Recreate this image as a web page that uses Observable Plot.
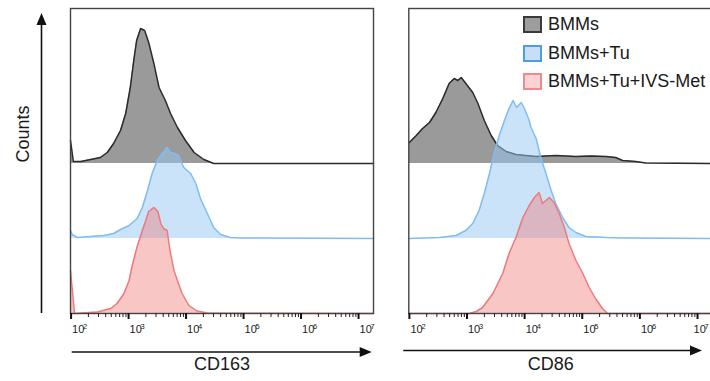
<!DOCTYPE html>
<html><head><meta charset="utf-8">
<script src="https://cdn.jsdelivr.net/npm/d3@7"></script>
<script src="https://cdn.jsdelivr.net/npm/@observablehq/plot@0.6"></script>
<style>
html,body{margin:0;padding:0;background:#fff;}
#wrap{position:relative;width:710px;height:381px;overflow:hidden;font-family:"Liberation Sans",Arial,sans-serif;}
.panel{position:absolute;top:0;}
#legend{position:absolute;left:523px;top:16px;}
.item{display:flex;align-items:center;height:17px;margin-bottom:11.7px;white-space:nowrap;font-size:18px;color:#1a1a1a;}
.sw{width:19px;height:17px;box-sizing:border-box;border:2px solid;margin-right:6px;flex:none;}
</style></head><body>
<div id="wrap"></div>
<script>
// ---- data: [log10 fluorescence intensity, counts (arbitrary units)] ----
const groups = ["BMMs", "BMMs+Tu", "BMMs+Tu+IVS-Met"];
const panelLabels = ["CD163", "CD86"];
const tickExponents = [2, 3, 4, 5, 6, 7];

const CD163_BMMs = [[1.99,23],[2.04,2],[2.17,2],[2.34,4],[2.51,6],[2.63,11],[2.74,20],[2.86,33],[2.95,50],[3.03,76],[3.09,103],[3.14,123],[3.21,135],[3.28,133],[3.35,121],[3.44,100],[3.53,76],[3.64,63],[3.73,50],[3.85,36],[3.99,23],[4.14,11],[4.31,4],[4.48,0],[7.26,0]];
const CD163_Tu = [[1.99,8],[2.02,4],[2.11,1],[2.34,2],[2.57,3],[2.74,5],[2.86,9],[3.01,13],[3.15,20],[3.24,31],[3.33,48],[3.41,65],[3.50,78],[3.59,85],[3.67,91],[3.73,86],[3.80,85],[3.87,83],[3.96,71],[4.08,65],[4.17,55],[4.25,40],[4.37,25],[4.48,11],[4.60,4],[4.77,1],[4.95,0.5],[7.26,0]];
const CD163_TuMet = [[1.99,43],[2.06,0],[2.46,1.5],[2.69,5],[2.80,10],[2.92,20],[3.01,33],[3.06,47],[3.15,67],[3.24,83],[3.30,93],[3.35,102],[3.44,106],[3.51,102],[3.56,90],[3.61,85],[3.67,83],[3.72,63],[3.79,43],[3.85,33],[3.93,20],[4.05,8],[4.19,2.5],[4.37,0.5],[7.26,0]];

const CD86_BMMs = [[2.00,21],[2.12,28],[2.23,35],[2.35,41],[2.46,51],[2.58,65],[2.69,80],[2.78,85],[2.84,83],[2.90,86],[2.98,80],[3.10,71],[3.19,60],[3.30,43],[3.42,28],[3.53,18],[3.68,12],[3.85,9],[4.02,8],[4.20,7],[4.54,8],[4.89,7],[5.15,7.5],[5.41,7],[5.58,6],[5.70,3],[5.93,2],[6.10,0.5],[7.26,0]];
const CD86_Tu = [[2.00,0],[2.52,1],[2.81,3],[2.98,8],[3.10,15],[3.21,28],[3.30,45],[3.39,65],[3.47,85],[3.56,103],[3.65,118],[3.73,130],[3.80,138],[3.86,131],[3.94,136],[3.99,131],[4.08,118],[4.11,111],[4.20,100],[4.28,81],[4.37,65],[4.46,48],[4.54,35],[4.66,21],[4.77,11],[4.89,6],[5.06,2],[5.41,1],[5.76,0.5],[7.26,0]];
const CD86_TuMet = [[2.00,0],[3.04,0],[3.16,2],[3.27,6],[3.45,20],[3.62,40],[3.73,60],[3.85,76],[3.97,96],[4.08,108],[4.17,116],[4.25,121],[4.31,110],[4.37,113],[4.43,116],[4.51,111],[4.60,100],[4.69,86],[4.77,70],[4.89,53],[5.01,40],[5.12,26],[5.23,15],[5.35,5],[5.44,0],[7.26,0]];

// ---- styling ----
const FONT = '"Liberation Sans", Arial, sans-serif';
const styles = [
  {fill: "#9a9a9a", fillOpacity: 1, stroke: "#2a2a2a"},
  {fill: "#95c8f3", fillOpacity: 0.5, stroke: "#80bdf0"},
  {fill: "#f07878", fillOpacity: 0.42, stroke: "#ec7b7b"}
];
const legendStyles = [
  {bg: "#9d9d9d", border: "#3a3a3a"},
  {bg: "#c6def6", border: "#4a9de6"},
  {bg: "#fcd3d3", border: "#f08a8a"}
];
const laneStep = 75;
const xDomain = [10 ** 1.99, 10 ** 7.26];
const majorTicks = tickExponents.map(e => 10 ** e);
const minorTicks = [];
for (let e = 1; e <= 7; e++) for (let k = 2; k <= 9; k++) {
  const v = k * 10 ** e; if (v > xDomain[0] && v < xDomain[1]) minorTicks.push(v);
}

function tickLabels(ticks, shift) {
  return [
    Plot.text(ticks, {x: d => d, text: () => "10", frameAnchor: "bottom", dy: 19.5, dx: 1 + shift, textAnchor: "start", fontSize: 11, fill: "#222"}),
    Plot.text(ticks, {x: d => d, text: d => String(Math.round(Math.log10(d))), frameAnchor: "bottom", dy: 15, dx: 12 + shift, textAnchor: "start", fontSize: 7.5, fill: "#222"})
  ];
}

function makePanel(seriesList, label, o) {
  const marks = [];
  seriesList.forEach((pts, i) => {
    const off = laneStep * (seriesList.length - 1 - i);
    const rows = pts.map(([e, c]) => ({x: 10 ** e, y1: off, y2: off + c}));
    marks.push(Plot.areaY(rows, {x: "x", y1: "y1", y2: "y2", fill: styles[i].fill, fillOpacity: styles[i].fillOpacity}));
    marks.push(Plot.lineY(rows, {x: "x", y: "y2", stroke: styles[i].stroke, strokeWidth: 1.5}));
  });
  marks.push(Plot.frame({stroke: "#444", strokeWidth: 1.4}));
  marks.push(Plot.axisX({ticks: minorTicks, tickSize: 4, tickFormat: () => "", stroke: "#222", strokeWidth: 1, label: null}));
  marks.push(Plot.axisX({ticks: majorTicks, tickSize: 6, tickFormat: () => "", stroke: "#111", strokeWidth: 2, label: null}));
  marks.push(...tickLabels(majorTicks.slice(0, -1), 0));
  marks.push(...tickLabels(majorTicks.slice(-1), o.lastShift));
  marks.push(Plot.text([label], {frameAnchor: "bottom", dy: 56, dx: o.labelDx, fontSize: 18, fill: "#1a1a1a"}));
  if (o.counts) marks.push(Plot.text(["Counts"], {frameAnchor: "left", rotate: -90, dx: -47, dy: 1.5, fontSize: 18, fill: "#1a1a1a"}));
  const chart = Plot.plot({
    width: o.width, height: 381,
    marginLeft: o.ml, marginRight: o.mr, marginTop: 8, marginBottom: 68,
    style: {fontFamily: FONT, background: "transparent", overflow: "visible"},
    x: {type: "log", domain: xDomain, axis: null},
    y: {domain: [0, 305], axis: null},
    marks
  });
  // decorative arrows drawn from the chart's own scale ranges
  const svg = d3.select(chart.tagName.toLowerCase() === "svg" ? chart : chart.querySelector("svg"));
  const [r0, r1] = chart.scale("x").range;
  const yb = 381 - 68;
  const g = svg.append("g").attr("fill", "#111").attr("stroke", "#111");
  const ax1 = r0 + o.arrow[0], ax2 = r1 + o.arrow[1], ay = yb + o.arrowDy;
  g.append("line").attr("x1", ax1).attr("x2", ax2 - 9).attr("y1", ay).attr("y2", ay).attr("stroke-width", 1.6);
  g.append("path").attr("stroke", "none").attr("d", `M${ax2},${ay}L${ax2 - 12},${ay - 5}L${ax2 - 12},${ay + 5}Z`);
  if (o.counts) {
    const vx = 41.5, top = 13;
    g.append("line").attr("x1", vx).attr("x2", vx).attr("y1", yb).attr("y2", top + 9).attr("stroke-width", 1.6);
    g.append("path").attr("stroke", "none").attr("d", `M${vx},${top}L${vx - 5},${top + 12}L${vx + 5},${top + 12}Z`);
  }
  return chart;
}

const wrap = document.getElementById("wrap");
const left = makePanel([CD163_BMMs, CD163_Tu, CD163_TuMet], panelLabels[0], {width: 390, ml: 70, mr: 17, counts: true, labelDx: 0, arrow: [1.7, -1.3], arrowDy: 39, lastShift: 0});
left.classList.add("panel"); left.style.left = "0px";
wrap.appendChild(left);
const right = makePanel([CD86_BMMs, CD86_Tu, CD86_TuMet], panelLabels[1], {width: 330, ml: 18.3, mr: 8, counts: false, labelDx: -10, arrow: [-5, -10], arrowDy: 37.5, lastShift: -5});
right.classList.add("panel"); right.style.left = "390px";
wrap.appendChild(right);

// legend
const legend = document.createElement("div");
legend.id = "legend";
groups.forEach((name, i) => {
  const item = document.createElement("div"); item.className = "item";
  const sw = document.createElement("div"); sw.className = "sw";
  sw.style.background = legendStyles[i].bg; sw.style.borderColor = legendStyles[i].border;
  const t = document.createElement("span"); t.textContent = name;
  item.appendChild(sw); item.appendChild(t); legend.appendChild(item);
});
wrap.appendChild(legend);
</script>
</body></html>
